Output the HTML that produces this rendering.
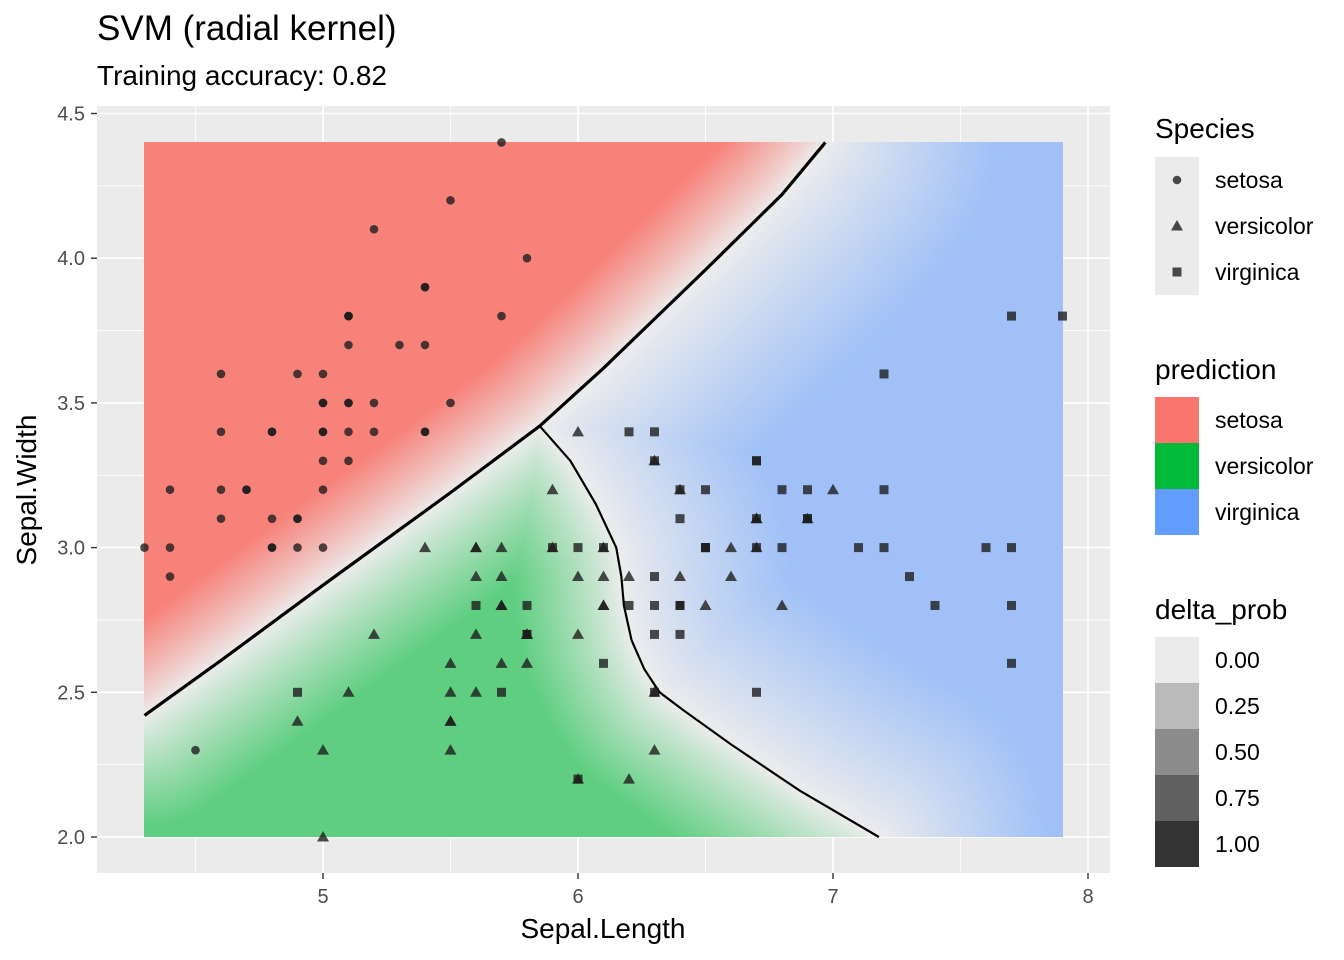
<!DOCTYPE html>
<html><head><meta charset="utf-8">
<style>
body{margin:0;background:#fff;font-family:"Liberation Sans",sans-serif;}
#wrap{position:relative;width:1344px;height:960px;overflow:hidden;}
svg text{font-family:"Liberation Sans",sans-serif;}
</style></head>
<body>
<div id="wrap">
<svg id="svg" width="1344" height="960"></svg>
</div>
<script>
const setosaL=[5.1,4.9,4.7,4.6,5.0,5.4,4.6,5.0,4.4,4.9,5.4,4.8,4.8,4.3,5.8,5.7,5.4,5.1,5.7,5.1,5.4,5.1,4.6,5.1,4.8,5.0,5.0,5.2,5.2,4.7,4.8,5.4,5.2,5.5,4.9,5.0,5.5,4.9,4.4,5.1,5.0,4.5,4.4,5.0,5.1,4.8,5.1,4.6,5.3,5.0];
const setosaW=[3.5,3.0,3.2,3.1,3.6,3.9,3.4,3.4,2.9,3.1,3.7,3.4,3.0,3.0,4.0,4.4,3.9,3.5,3.8,3.8,3.4,3.7,3.6,3.3,3.4,3.0,3.4,3.5,3.4,3.2,3.1,3.4,4.1,4.2,3.1,3.2,3.5,3.6,3.0,3.4,3.5,2.3,3.2,3.5,3.8,3.0,3.8,3.2,3.7,3.3];
const versiL=[7.0,6.4,6.9,5.5,6.5,5.7,6.3,4.9,6.6,5.2,5.0,5.9,6.0,6.1,5.6,6.7,5.6,5.8,6.2,5.6,5.9,6.1,6.3,6.1,6.4,6.6,6.8,6.7,6.0,5.7,5.5,5.5,5.8,6.0,5.4,6.0,6.7,6.3,5.6,5.5,5.5,6.1,5.8,5.0,5.6,5.7,5.7,6.2,5.1,5.7];
const versiW=[3.2,3.2,3.1,2.3,2.8,2.8,3.3,2.4,2.9,2.7,2.0,3.0,2.2,2.9,2.9,3.1,3.0,2.7,2.2,2.5,3.2,2.8,2.5,2.8,2.9,3.0,2.8,3.0,2.9,2.6,2.4,2.4,2.7,2.7,3.0,3.4,3.1,2.3,3.0,2.5,2.6,3.0,2.6,2.3,2.7,3.0,2.9,2.9,2.5,2.8];
const virgL=[6.3,5.8,7.1,6.3,6.5,7.6,4.9,7.3,6.7,7.2,6.5,6.4,6.8,5.7,5.8,6.4,6.5,7.7,7.7,6.0,6.9,5.6,7.7,6.3,6.7,7.2,6.2,6.1,6.4,7.2,7.4,7.9,6.4,6.3,6.1,7.7,6.3,6.4,6.0,6.9,6.7,6.9,5.8,6.8,6.7,6.7,6.3,6.5,6.2,5.9];
const virgW=[3.3,2.7,3.0,2.9,3.0,3.0,2.5,2.9,2.5,3.6,3.2,2.7,3.0,2.5,2.8,3.2,3.0,3.8,2.6,2.2,3.2,2.8,2.8,2.7,3.3,3.2,2.8,3.0,2.8,3.0,2.8,3.8,2.8,2.8,2.6,3.0,3.4,3.1,3.0,3.1,3.1,3.1,2.7,3.2,3.3,3.0,2.5,3.0,3.4,3.0];
const boundary1X=[4.3,4.6,5.0,5.5,5.85,6.1,6.5,6.8,6.97];
const boundary1Y=[2.42,2.61,2.87,3.19,3.42,3.62,3.96,4.22,4.4];
const boundary2X=[5.85,5.97,6.07,6.15,6.17,6.18,6.21,6.26,6.32,6.41,6.6,6.87,7.18];
const boundary2Y=[3.42,3.3,3.15,3.0,2.9,2.8,2.68,2.58,2.5,2.44,2.32,2.16,2.0];
const xTicks=[5,6,7,8], yTicks=[2.0,2.5,3.0,3.5,4.0,4.5];
const xTickLabels=["5","6","7","8"], yTickLabels=["2.0","2.5","3.0","3.5","4.0","4.5"];

const X=v=>323+(v-5)*255, Y=v=>837-(v-2)*289.4;
const NS="http://www.w3.org/2000/svg", svg=document.getElementById('svg');
function mk(t,a,p){const e=document.createElementNS(NS,t);for(const k in a)e.setAttribute(k,a[k]);(p||svg).appendChild(e);return e;}
function txt(s,x,y,size,fill,anchor,name){const e=mk('text',{x:x,y:y,'font-size':size,fill:fill,'text-anchor':anchor||'start'});e.textContent=s;

return e;}

const panel=mk('rect',{x:97,y:106,width:1013,height:767,fill:'#EBEBEB'});


for(let v=4.5;v<=8;v+=1){mk('line',{x1:X(v),x2:X(v),y1:106,y2:873,stroke:'#fff','stroke-width':0.8});}
for(let v=2.25;v<=4.5;v+=0.5){mk('line',{y1:Y(v),y2:Y(v),x1:97,x2:1110,stroke:'#fff','stroke-width':0.8});}
xTicks.forEach(v=>mk('line',{x1:X(v),x2:X(v),y1:106,y2:873,stroke:'#fff','stroke-width':1.6}));
yTicks.forEach(v=>mk('line',{y1:Y(v),y2:Y(v),x1:97,x2:1110,stroke:'#fff','stroke-width':1.6}));

function interp(xs,ys,x){for(let i=0;i<xs.length-1;i++){if(x>=xs[i]&&x<=xs[i+1])return ys[i]+(ys[i+1]-ys[i])*(x-xs[i])/(xs[i+1]-xs[i]);}return null;}
function interpY(xs,ys,y){for(let i=0;i<ys.length-1;i++){const a=ys[i],b=ys[i+1];if((y<=a&&y>=b)||(y>=a&&y<=b))return xs[i]+(xs[i+1]-xs[i])*(y-a)/(b-a);}return null;}
function segDist(px,py,ax,ay,bx,by){const dx=bx-ax,dy=by-ay;let t=((px-ax)*dx+(py-ay)*dy)/(dx*dx+dy*dy);t=Math.max(0,Math.min(1,t));const cx=ax+t*dx-px,cy=ay+t*dy-py;return Math.sqrt(cx*cx+cy*cy);}
function polyDist(px,py,xs,ys){let m=1e9;for(let i=0;i<xs.length-1;i++)m=Math.min(m,segDist(px,py,X(xs[i]),Y(ys[i]),X(xs[i+1]),Y(ys[i+1])));return m;}
const hx0=Math.round(X(4.3)),hx1=Math.round(X(7.9)),hy0=Math.round(Y(4.4)),hy1=Math.round(Y(2.0));
const cv=document.createElement('canvas');cv.width=hx1-hx0;cv.height=hy1-hy0;
const ctx=cv.getContext('2d');const img=ctx.createImageData(cv.width,cv.height);
const step=3;
for(let py=0;py<cv.height;py+=step)for(let px=0;px<cv.width;px+=step){
 const sx=hx0+px+1,sy=hy0+py+1;const dx=(sx-323)/255+5,dy=(837-sy)/289.4+2;
 const l1=interp(boundary1X,boundary1Y,dx);
 let cls;
 if(l1!==null&&dy>l1)cls=0;
 else{ if(dy>3.42)cls=2; else{const xb=interpY(boundary2X,boundary2Y,Math.max(2.0,dy));cls=(xb!==null&&dx<xb)?1:2;}}
 const d1=polyDist(sx,sy,boundary1X,boundary1Y),d2=polyDist(sx,sy,boundary2X,boundary2Y);
 let d=cls===0?d1:Math.min(d1,d2);
 const col=[[248,118,109],[0,186,56],[97,156,255]][cls];
 const amax=[0.9,0.6,0.55][cls];const dd=[80,110,170][cls];
 const a=amax*Math.min(1,Math.pow(d/dd,0.9));
 const base=[237,237,237];
 const c=base.map((b,i)=>Math.round(b*(1-a)+col[i]*a));
 for(let yy=py;yy<Math.min(py+step,cv.height);yy++)for(let xx=px;xx<Math.min(px+step,cv.width);xx++){const k=(yy*cv.width+xx)*4;img.data[k]=c[0];img.data[k+1]=c[1];img.data[k+2]=c[2];img.data[k+3]=255;}
}
ctx.putImageData(img,0,0);
const fo=mk('foreignObject',{x:hx0,y:hy0,width:cv.width,height:cv.height});


cv.style.display='block';fo.appendChild(cv);

const p1=mk('polyline',{points:boundary1X.map((v,i)=>X(v)+','+Y(boundary1Y[i])).join(' '),fill:'none',stroke:'#000','stroke-width':3.2});


const p2=mk('polyline',{points:boundary2X.map((v,i)=>X(v)+','+Y(boundary2Y[i])).join(' '),fill:'none',stroke:'#000','stroke-width':2.2});



const pc='rgba(30,30,30,0.8)';
setosaL.forEach((v,i)=>{const e=mk('circle',{cx:X(v),cy:Y(setosaW[i]),r:4.3,fill:pc});

});
versiL.forEach((v,i)=>{const x=X(v),y=Y(versiW[i]);const e=mk('polygon',{points:`${x},${y-6} ${x-6},${y+4.5} ${x+6},${y+4.5}`,fill:pc});

});
virgL.forEach((v,i)=>{const e=mk('rect',{x:X(v)-4.5,y:Y(virgW[i])-4.5,width:9,height:9,fill:pc});

});

xTicks.forEach((v,i)=>{mk('line',{x1:X(v),x2:X(v),y1:873,y2:879,stroke:'#333','stroke-width':1.4});txt(xTickLabels[i],X(v),903,20,'#4D4D4D','middle','x-tick-label');});
yTicks.forEach((v,i)=>{mk('line',{x1:91,x2:97,y1:Y(v),y2:Y(v),stroke:'#333','stroke-width':1.4});txt(yTickLabels[i],85,Y(v)+7,20,'#4D4D4D','end','y-tick-label');});
txt('Sepal.Length',603,938,28,'#000','middle','x-axis-title');
const yt=txt('Sepal.Width',0,0,28,'#000','middle','y-axis-title');yt.setAttribute('transform','translate(36,490) rotate(-90)');
txt('SVM (radial kernel)',97,40,35,'#000','start','chart-title');
txt('Training accuracy: 0.82',97,85,28,'#000','start','chart-subtitle');

txt('Species',1155,138,28,'#000','start','species-legend-title');
const sp=['setosa','versicolor','virginica'];
sp.forEach((s,i)=>{const y=157+i*46;mk('rect',{x:1155,y:y,width:44,height:46,fill:'#EBEBEB'});const cx=1177,cy=y+23;
 if(i===0)mk('circle',{cx:cx,cy:cy,r:4.3,fill:pc});else if(i===1)mk('polygon',{points:`${cx},${cy-6} ${cx-6},${cy+4.5} ${cx+6},${cy+4.5}`,fill:pc});else mk('rect',{x:cx-4.5,y:cy-4.5,width:9,height:9,fill:pc});
 txt(s,1215,cy+8,23,'#000','start','species-legend-entry');});
txt('prediction',1155,379,28,'#000','start','prediction-legend-title');
['#F8766D','#00BA38','#619CFF'].forEach((c,i)=>{const y=397+i*46;const r=mk('rect',{x:1155,y:y,width:44,height:46,fill:c});


txt(sp[i],1215,y+31,23,'#000','start','prediction-legend-entry');});
txt('delta_prob',1155,619,28,'#000','start','delta-prob-legend-title');
['0.00','0.25','0.50','0.75','1.00'].forEach((s,i)=>{const y=637+i*46;const g=[235,186,140,96,51][i];mk('rect',{x:1155,y:y,width:44,height:46,fill:`rgb(${g},${g},${g})`});txt(s,1215,y+31,23,'#000','start','delta-prob-legend-entry');});
</script>
</body></html>
